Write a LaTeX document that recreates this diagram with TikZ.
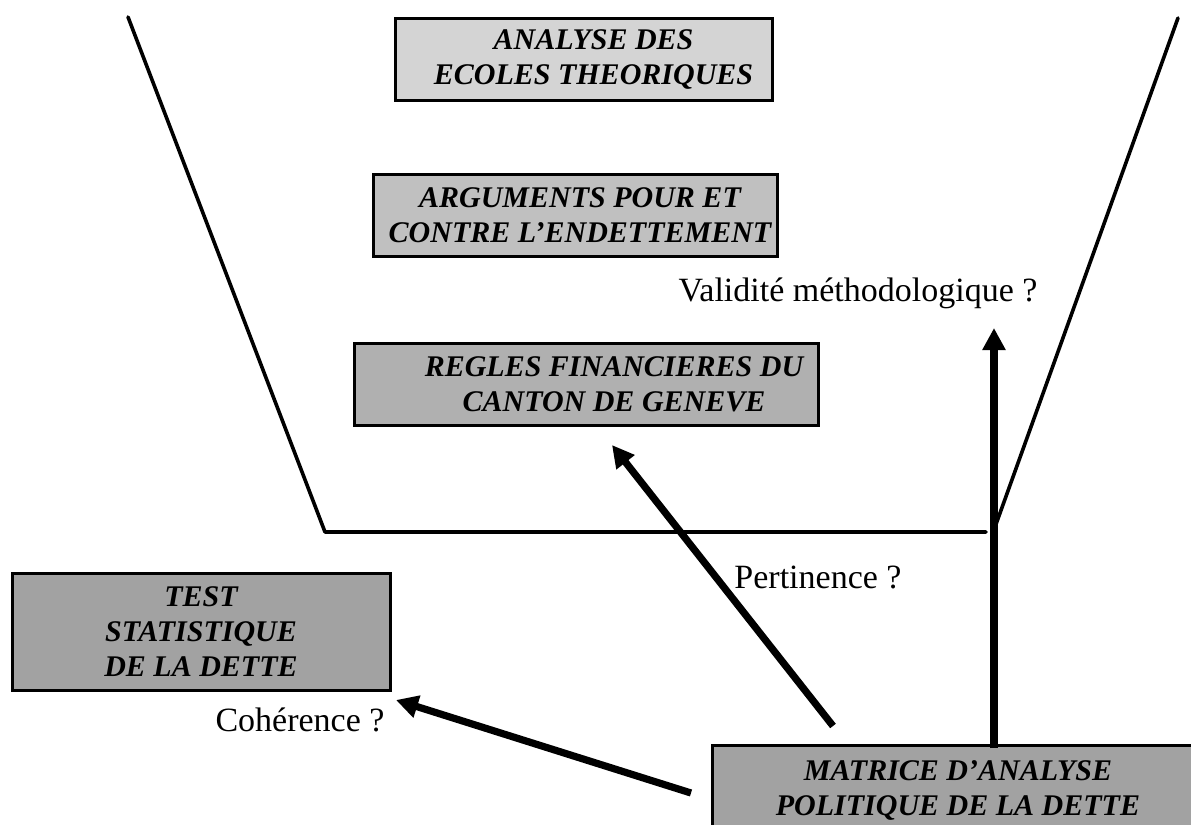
\documentclass[tikz,border=0pt]{standalone}
\usepackage{fontspec}
\setmainfont{Liberation Serif}
\usepackage{tikz}
\usetikzlibrary{arrows.meta, positioning, calc}
\definecolor{grisA}{RGB}{212,212,212}
\definecolor{grisB}{RGB}{192,192,192}
\definecolor{grisC}{RGB}{176,176,176}
\definecolor{grisD}{RGB}{162,162,162}

\begin{document}
\begin{tikzpicture}[x=0.5pt, y=-0.5pt,
  cadre/.style={draw, line width=1.5pt, inner sep=0pt},
  texte/.style={inner sep=0pt, align=center,
    font=\fontsize{15}{17.5}\selectfont\bfseries\itshape},
  etiq/.style={font=\fontsize{17}{20}\selectfont, inner sep=0pt},
  fleche/.style={line width=3.6pt, -{Triangle[length=11pt, width=11pt]}},
  bord/.style={line width=1.8pt, line cap=round, line join=round}]
  \useasboundingbox (0,0) rectangle (1191,825);
  \clip (0,0) rectangle (1191,825);

  % entonnoir
  \coordinate (hautG) at (128,17);
  \coordinate (basG) at (325,532);
  \coordinate (basD) at (986,532);
  \coordinate (hautD) at (1178,18);
  \coordinate (pied) at (995,527);
  \draw[bord] (hautG) -- (basG) -- (basD);
  \draw[bord] (hautD) -- (pied);

  % cadres
  \node[cadre, fill=grisA, minimum width=188.5pt, minimum height=41pt] (ecoles) at (583.5,59) {};
  \node[cadre, fill=grisB, minimum width=202pt, minimum height=41pt] (arguments) at (575,215) {};
  \node[cadre, fill=grisC, minimum width=232pt, minimum height=41pt] (regles) at (586,384) {};
  \node[cadre, fill=grisD, minimum width=189pt, minimum height=58.5pt] (test) at (201,631.5) {};
  \node[cadre, fill=grisD, minimum width=246pt, minimum height=45pt] (matrice) at (958,790) {};

  \node[texte] (ecolesT) at ($(ecoles)+(10,0)$) {ANALYSE DES\\ECOLES THEORIQUES};
  \node[texte] (argumentsT) at ($(arguments)+(5,0)$) {ARGUMENTS POUR ET\\CONTRE L’ENDETTEMENT};
  \node[texte] (reglesT) at ($(regles)+(28,0)$) {REGLES FINANCIERES DU\\CANTON DE GENEVE};
  \node[texte] (testT) at (test) {TEST\\STATISTIQUE\\DE LA DETTE};
  \node[texte] (matriceT) at (matrice) {MATRICE D’ANALYSE\\POLITIQUE DE LA DETTE};

  % questions
  \node[etiq] (validite) at (858,293) {Validité méthodologique ?};
  \node[etiq] (pertinence) at (818,577) {Pertinence ?};
  \node[etiq] (coherence) at (300,720) {Cohérence ?};

  % fleches
  \coordinate (depA) at (833,726);
  \coordinate (finA) at (612,445);
  \coordinate (depB) at (691,793);
  \coordinate (finB) at (396,700);
  \coordinate (depC) at (994,748);
  \coordinate (finC) at (994,328);
  \draw[fleche] (depA) -- (finA);
  \draw[fleche] (depB) -- (finB);
  \draw[fleche] (depC) -- (finC);
\end{tikzpicture}
\end{document}
